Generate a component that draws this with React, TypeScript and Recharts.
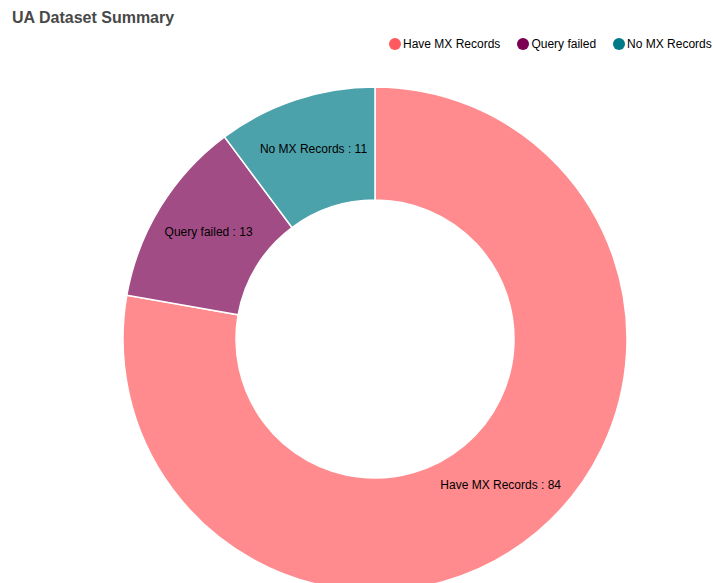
import { Cell, Pie, PieChart } from "recharts";

const categories = ["Have MX Records", "Query failed", "No MX Records"];
const counts = [84, 13, 11];
const colors = ["#ff5a5f", "#7b0051", "#007a87"];

const data = categories.map((name, i) => ({ name, value: counts[i] }));

const RADIAN = Math.PI / 180;
const FONT = "'Liberation Sans', Arial, Helvetica, sans-serif";

function renderLabel(props: any) {
  const { cx, cy, midAngle, innerRadius, outerRadius, name, value } = props;
  const r = (innerRadius + outerRadius) / 2;
  const x = cx + r * Math.cos(-midAngle * RADIAN);
  const y = cy + r * Math.sin(-midAngle * RADIAN);
  return (
    <text x={x} y={y} textAnchor="middle" fill="#000" fontSize={12} fontFamily={FONT}>
      {`${name} : ${value}`}
    </text>
  );
}

function ChartLegend() {
  return (
    <div
      style={{
        position: "absolute",
        top: 37,
        left: 389,
        display: "flex",
        fontFamily: FONT,
        fontSize: 12,
        color: "#000",
        whiteSpace: "nowrap",
      }}
    >
      {categories.map((name, i) => (
        <div key={name} style={{ display: "flex", alignItems: "center", marginRight: 17 }}>
          <span
            style={{
              display: "inline-block",
              width: 12,
              height: 12,
              borderRadius: "50%",
              background: colors[i],
              marginRight: 2,
            }}
          />
          <span>{name}</span>
        </div>
      ))}
    </div>
  );
}

export default function App() {
  return (
    <div
      style={{
        position: "absolute",
        left: 0,
        top: 0,
        width: 713,
        height: 583,
        overflow: "hidden",
        background: "#fff",
      }}
    >
      <div
        style={{
          position: "absolute",
          left: 12,
          top: 9,
          fontFamily: FONT,
          fontWeight: "bold",
          fontSize: 16,
          color: "#484848",
        }}
      >
        UA Dataset Summary
      </div>
      <ChartLegend />
      <PieChart width={713} height={583} margin={{ top: 0, right: 0, bottom: 0, left: 0 }}>
        <Pie
          data={data}
          dataKey="value"
          nameKey="name"
          cx={375}
          cy={339}
          innerRadius={139}
          outerRadius={252}
          startAngle={90}
          endAngle={-270}
          stroke="#fff"
          strokeWidth={1.5}
          label={renderLabel}
          labelLine={false}
          isAnimationActive={false}
        >
          {data.map((d, i) => (
            <Cell key={d.name} fill={colors[i]} fillOpacity={0.7} />
          ))}
        </Pie>
      </PieChart>
    </div>
  );
}
